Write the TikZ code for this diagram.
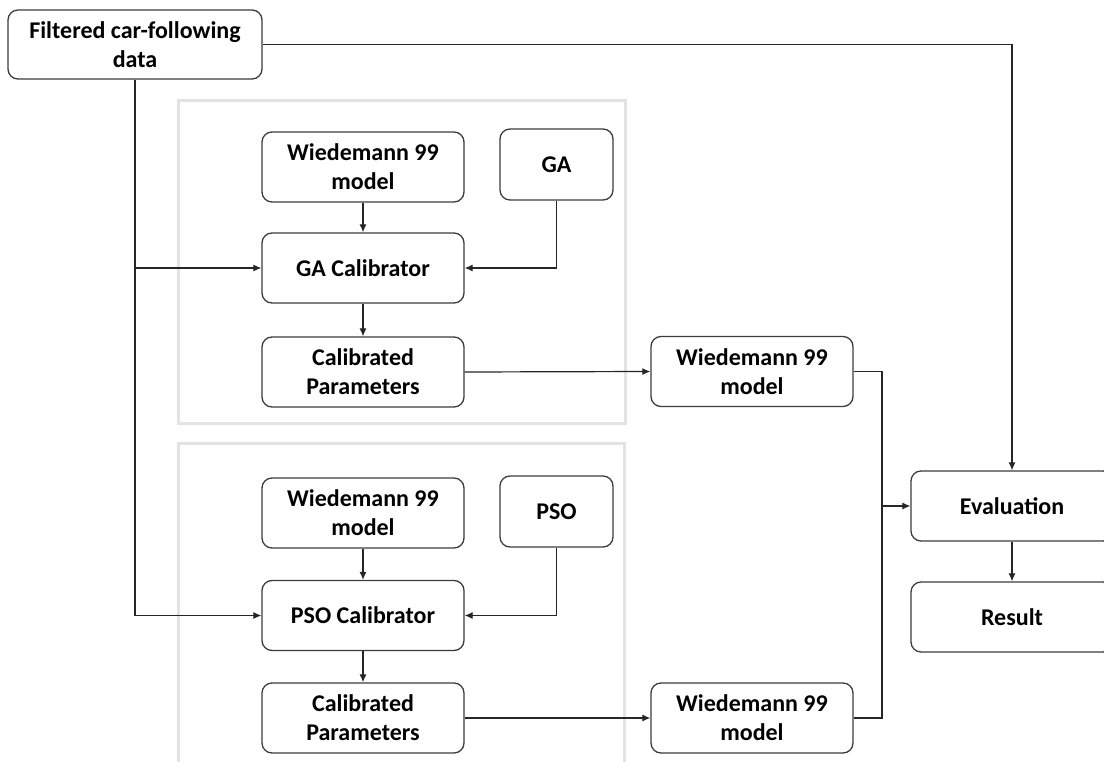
\documentclass[tikz,border=0pt]{standalone}
\usepackage{fontspec}
\setmainfont{Carlito}
\usetikzlibrary{arrows.meta}
\definecolor{framegray}{HTML}{E3E3E3}
\definecolor{boxline}{HTML}{3C3C3C}
\tikzset{
  blk/.style={draw=boxline, line width=1.3pt, rounded corners=10pt, fill=white,
    align=center, inner sep=2pt,
    font=\fontsize{24}{29}\selectfont\bfseries},
  wide/.style={blk, minimum width=202pt, minimum height=70pt},
  small/.style={blk, minimum width=113pt, minimum height=71pt},
  frame/.style={draw=framegray, line width=3pt},
  link/.style={draw=black!85, line width=1.2pt},
  arr/.style={link, -{Latex[length=8pt,width=7pt]}}
}
\begin{document}
\begin{tikzpicture}[x=1pt,y=-1pt]
\useasboundingbox (0,0) rectangle (1104,762);
\clip (0,0) rectangle (1104,762);
\fill[white] (0,0) rectangle (1104,762);

% calibration frames
\draw[frame] (178,101) rectangle (625,423);
\draw[frame] (178,443) rectangle (624,790);

% input data
\node[blk, minimum width=254pt, minimum height=69pt] (filt) at (135,44.5) {Filtered car-following\\data};

% GA branch
\node[wide]  (w1)    at (363,167)   {Wiedemann 99\\model};
\node[small] (ga)    at (556.5,164.5) {GA};
\node[wide]  (gacal) at (363,268)   {GA Calibrator};
\node[wide]  (cp1)   at (363,372)   {Calibrated\\Parameters};

% PSO branch
\node[wide]  (w2)     at (363,513)   {Wiedemann 99\\model};
\node[small] (pso)    at (556.5,511.5) {PSO};
\node[wide]  (psocal) at (363,615.5) {PSO Calibrator};
\node[wide]  (cp2)    at (363,718)   {Calibrated\\Parameters};

% calibrated models and evaluation
\node[wide] (wr1)  at (752,371.5) {Wiedemann 99\\model};
\node[wide] (wr2)  at (752,718)   {Wiedemann 99\\model};
\node[wide] (eval) at (1012,506)  {Evaluation};
\node[wide] (res)  at (1012,617)  {Result};

\coordinate (jn) at (882,506);

% connectors
\draw[arr] (filt.east) -| (eval.north);
\draw[arr] (filt.south) |- (psocal.west);
\draw[arr] (filt.south |- gacal.west) -- (gacal.west);

\draw[arr] (w1.south) -- (gacal.north);
\draw[arr] (gacal.south) -- (cp1.north);
\draw[arr] (ga.south) |- (gacal.east);

\draw[arr] (w2.south) -- (psocal.north);
\draw[arr] (psocal.south) -- (cp2.north);
\draw[arr] (pso.south) |- (psocal.east);

\draw[arr] (cp1.east) -- (wr1.west);
\draw[arr] (cp2.east) -- (wr2.west);

\draw[link] (wr1.east) -| (jn) |- (wr2.east);
\draw[arr] (jn) -- (eval.west);
\draw[arr] (eval.south) -- (res.north);
\end{tikzpicture}
\end{document}
